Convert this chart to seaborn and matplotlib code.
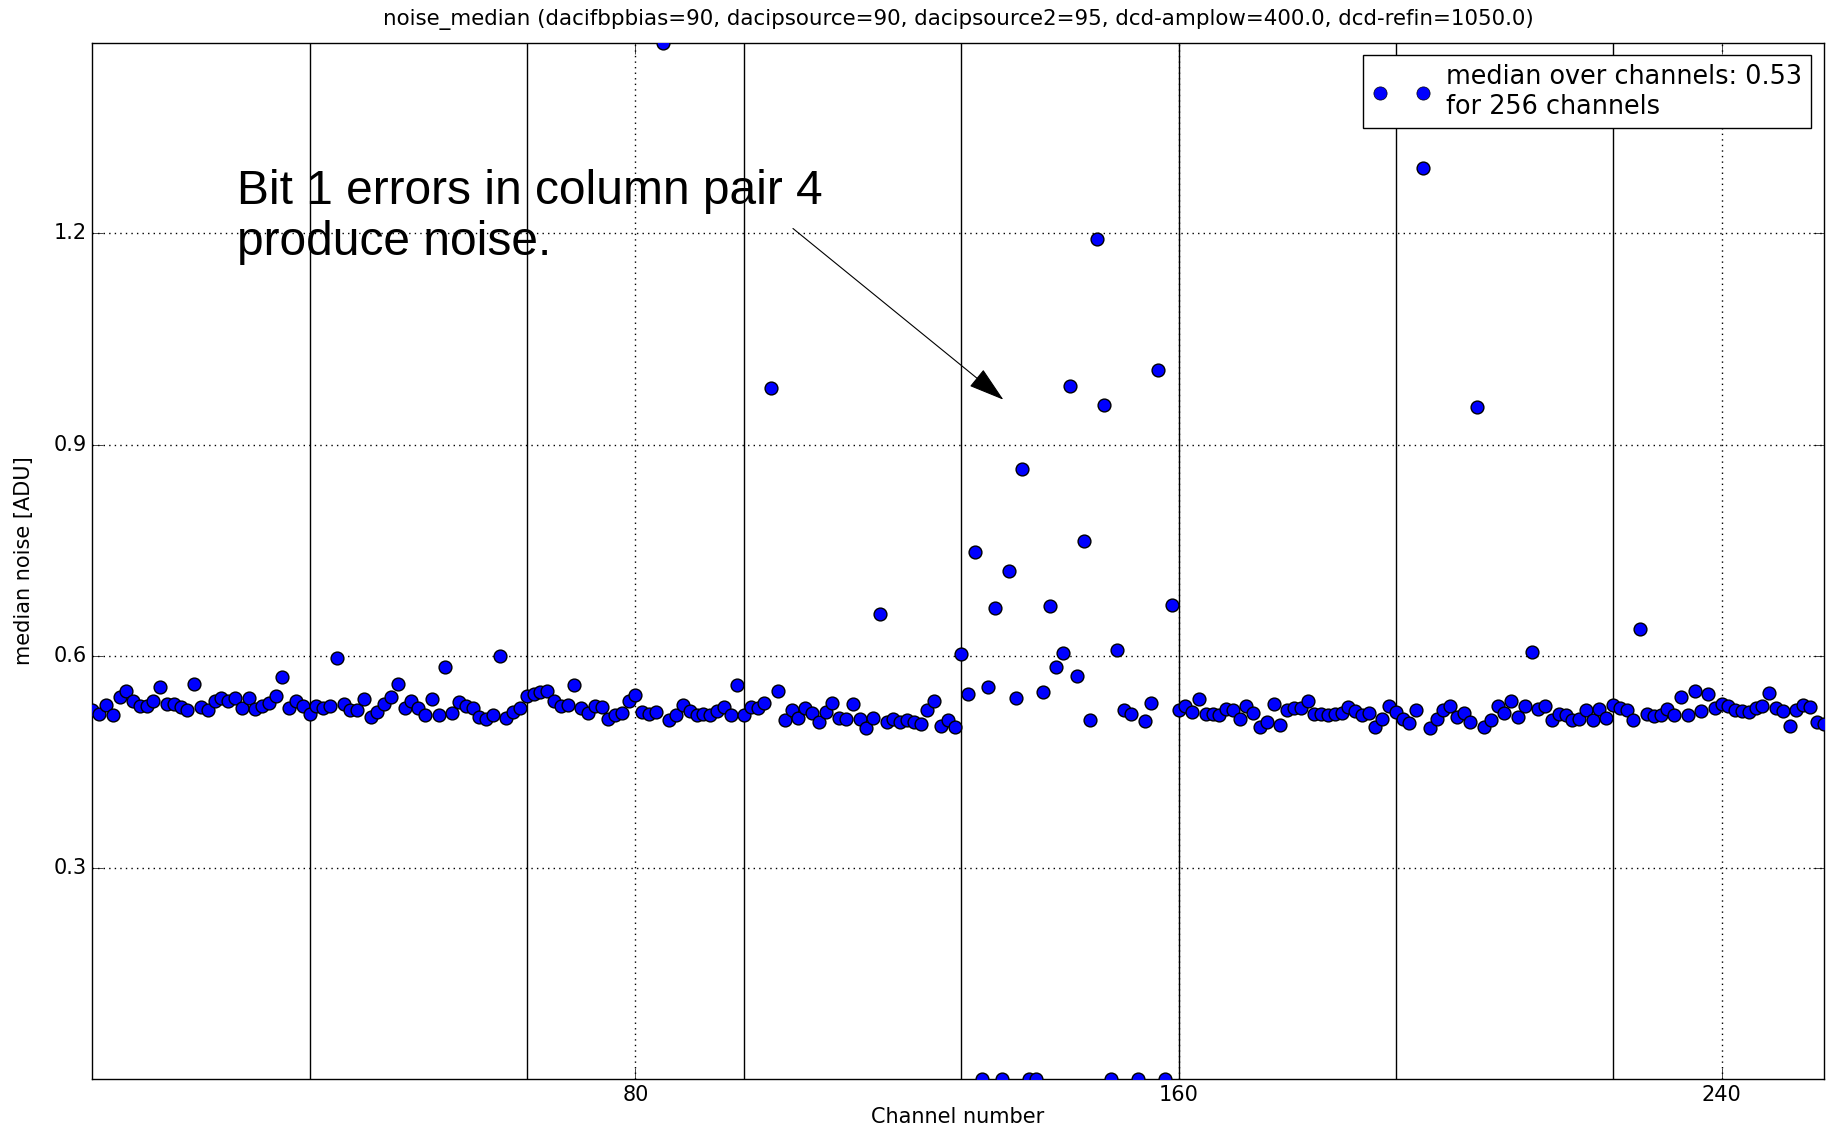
import numpy as np
import pandas as pd
import matplotlib
matplotlib.use("Agg")
import matplotlib.pyplot as plt
from matplotlib.lines import Line2D
import seaborn as sns

# Median noise per readout channel, in ADU, channel blocks of 32
noise_block0 = [0.524, 0.518, 0.531, 0.517, 0.542, 0.550, 0.536, 0.529, 0.529, 0.536, 0.556, 0.532,
                0.532, 0.528, 0.523, 0.561, 0.528, 0.524, 0.536, 0.541, 0.536, 0.540, 0.527, 0.541,
                0.525, 0.530, 0.533, 0.543, 0.571, 0.527, 0.536, 0.529]
noise_block1 = [0.518, 0.529, 0.527, 0.529, 0.598, 0.532, 0.524, 0.524, 0.539, 0.514, 0.521, 0.532,
                0.542, 0.561, 0.526, 0.537, 0.527, 0.516, 0.539, 0.516, 0.584, 0.519, 0.535, 0.530,
                0.526, 0.514, 0.511, 0.517, 0.600, 0.513, 0.521, 0.527]
noise_block2 = [0.543, 0.547, 0.549, 0.550, 0.537, 0.529, 0.531, 0.559, 0.527, 0.519, 0.529, 0.528,
                0.511, 0.516, 0.520, 0.537, 0.545, 0.521, 0.518, 0.521, 1.470, 0.510, 0.517, 0.531,
                0.522, 0.516, 0.518, 0.517, 0.522, 0.528, 0.516, 0.559]
noise_block3 = [0.516, 0.528, 0.526, 0.534, 0.980, 0.551, 0.510, 0.524, 0.512, 0.527, 0.519, 0.506,
                0.521, 0.534, 0.513, 0.511, 0.532, 0.511, 0.498, 0.513, 0.660, 0.506, 0.511, 0.507,
                0.510, 0.506, 0.504, 0.523, 0.537, 0.501, 0.510, 0.499]
noise_block4 = [0.603, 0.546, 0.748, 0.0, 0.556, 0.668, 0.0, 0.721, 0.541, 0.866, 0.0, 0.0,
                0.549, 0.671, 0.585, 0.605, 0.984, 0.572, 0.764, 0.510, 1.192, 0.957, 0.0, 0.609,
                0.524, 0.518, 0.0, 0.508, 0.534, 1.006, 0.0, 0.672]
noise_block5 = [0.523, 0.529, 0.521, 0.539, 0.518, 0.518, 0.517, 0.525, 0.523, 0.511, 0.530, 0.519,
                0.499, 0.506, 0.532, 0.503, 0.524, 0.527, 0.527, 0.536, 0.518, 0.518, 0.517, 0.518,
                0.519, 0.528, 0.522, 0.517, 0.519, 0.500, 0.511, 0.530]
noise_block6 = [0.521, 0.511, 0.505, 0.523, 1.293, 0.498, 0.511, 0.523, 0.530, 0.514, 0.519, 0.507,
                0.953, 0.499, 0.509, 0.529, 0.520, 0.536, 0.514, 0.530, 0.606, 0.525, 0.529, 0.510,
                0.518, 0.517, 0.509, 0.511, 0.523, 0.510, 0.525, 0.513]
noise_block7 = [0.531, 0.527, 0.523, 0.509, 0.639, 0.518, 0.515, 0.516, 0.525, 0.517, 0.542, 0.517,
                0.551, 0.522, 0.547, 0.526, 0.532, 0.530, 0.524, 0.522, 0.521, 0.527, 0.530, 0.548,
                0.526, 0.522, 0.501, 0.523, 0.531, 0.528, 0.506, 0.504]

x_ticks = [80, 160, 240]
y_ticks = [0.3, 0.6, 0.9, 1.2]
block_edges = [32, 64, 96, 128, 160, 192, 224]

title_text = ("noise_median (dacifbpbias=90, dacipsource=90, dacipsource2=95, "
              "dcd-amplow=400.0, dcd-refin=1050.0)")
legend_text = "median over channels: 0.53\nfor 256 channels"
note_text = "Bit 1 errors in column pair 4\nproduce noise."

noise = np.concatenate([noise_block0, noise_block1, noise_block2, noise_block3,
                        noise_block4, noise_block5, noise_block6, noise_block7])
df = pd.DataFrame({"channel": np.arange(len(noise)), "noise": noise})

plt.style.use("classic")
plt.rcParams["font.family"] = ["DejaVu Sans"]

fig = plt.figure(figsize=(18.29, 11.27), dpi=100, facecolor="white")
ax = fig.add_axes([0.0505, 0.0426, 0.9465, 0.9191])
ax.set_facecolor("white")

sns.scatterplot(data=df, x="channel", y="noise", ax=ax, color="blue",
                edgecolor="black", linewidth=1.0, s=85, legend=False, zorder=3)

for edge in block_edges:
    ax.axvline(edge, color="black", lw=1.0, zorder=2)

ax.set_xlim(0, len(noise) - 1)
ax.set_ylim(noise.min(), noise.max())
ax.set_xticks(x_ticks)
ax.set_yticks(y_ticks)
ax.grid(True, color="black", linestyle=":", linewidth=1.0)
ax.set_axisbelow(True)
ax.tick_params(labelsize=15, direction="in", length=8)

ax.set_xlabel("Channel number", fontsize=15, labelpad=2)
ax.set_ylabel("median noise [ADU]", fontsize=15, labelpad=14)
ax.set_title(title_text, fontsize=15.4, pad=13)

handle = Line2D([], [], marker="o", linestyle="none", markerfacecolor="blue",
                markeredgecolor="black", markersize=9.5)
ax.legend([handle], [legend_text], loc="upper right", numpoints=2, fontsize=18.4,
          frameon=True, fancybox=False, edgecolor="black", borderpad=0.35,
          handlelength=2.3, handletextpad=0.6, borderaxespad=0.0,
          bbox_to_anchor=(0.993, 0.989))

ax.text(21.3, 1.292, note_text, fontsize=34.5, va="top", ha="left", linespacing=1.18,
        family=["Liberation Sans", "DejaVu Sans"])
ax.annotate("", xy=(134.2, 0.964), xytext=(103.2, 1.207),
            arrowprops=dict(arrowstyle="-|>,head_length=1.15,head_width=0.35",
                            mutation_scale=20, color="black", lw=0.8,
                            shrinkA=0, shrinkB=0))

fig.savefig("out.png", dpi=100, facecolor="white")
